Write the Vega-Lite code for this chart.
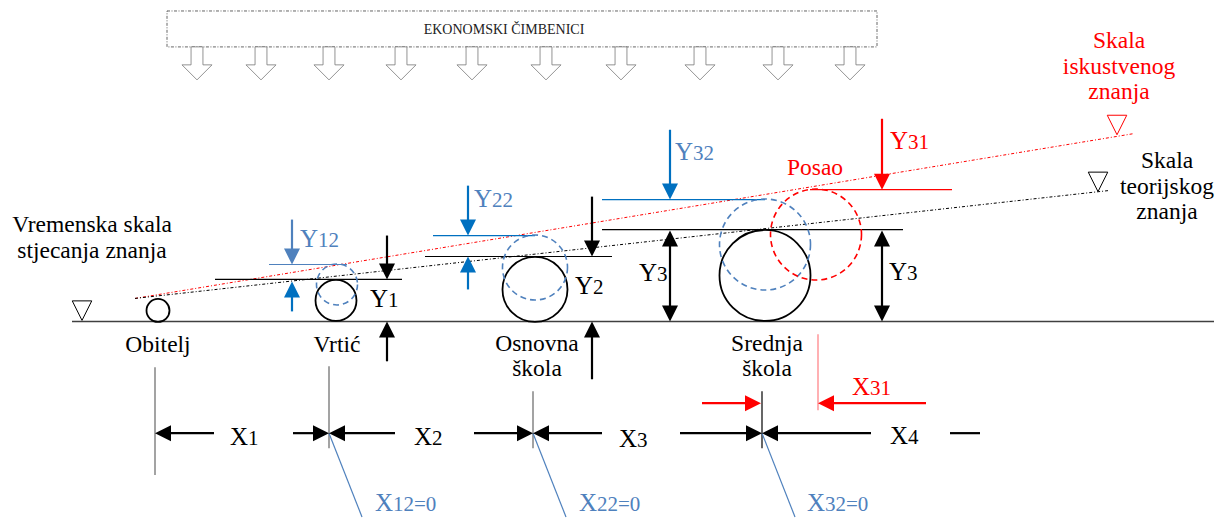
{
  "$schema": "https://vega.github.io/schema/vega-lite/v6.json",
  "width": 1216,
  "height": 518,
  "autosize": {"type": "fit", "contains": "padding"},
  "padding": 0,
  "background": "white",
  "config": {"view": {"stroke": null}},
  "encoding": {
    "x": {"field": "x", "type": "quantitative", "scale": {"domain": [0, 1216], "nice": false, "zero": false}, "axis": null},
    "y": {"field": "y", "type": "quantitative", "scale": {"domain": [0, 518], "nice": false, "zero": false, "reverse": true}, "axis": null}
  },
  "layer": [
    {
      "data": {"values": [{"x": 167, "x2": 877, "y": 11, "y2": 47}]},
      "mark": {"type": "rect", "filled": false, "stroke": "#555555", "strokeWidth": 0.9, "strokeDash": [3, 1.5, 1, 1.5]},
      "encoding": {"x2": {"field": "x2"}, "y2": {"field": "y2"}}
    },
    {
      "data": {"values": [{"x": 504, "y": 34, "t": "EKONOMSKI ČIMBENICI"}]},
      "mark": {"type": "text", "font": "Liberation Serif", "fontSize": 14, "align": "center", "baseline": "alphabetic", "color": "#222222"},
      "encoding": {"text": {"field": "t"}}
    },
    {
      "data": {"values": [
        {"x": 197, "y": 63.5}, {"x": 261, "y": 63.5}, {"x": 329, "y": 63.5}, {"x": 401, "y": 63.5}, {"x": 472, "y": 63.5},
        {"x": 546, "y": 63.5}, {"x": 621, "y": 63.5}, {"x": 700, "y": 63.5}, {"x": 778, "y": 63.5}, {"x": 850, "y": 63.5}
      ]},
      "mark": {"type": "point", "shape": "M-0.36,-1L0.36,-1L0.36,0.09L0.91,0.09L0,1L-0.91,0.09L-0.36,0.09Z", "size": 1089, "filled": true, "fill": "white", "stroke": "#777777", "strokeWidth": 0.8, "opacity": 1}
    },
    {
      "data": {"values": [{"x": 72, "y": 322, "x2": 1214, "y2": 322}]},
      "mark": {"type": "rule", "color": "#404040", "strokeWidth": 1.5},
      "encoding": {"x2": {"field": "x2"}, "y2": {"field": "y2"}}
    },
    {
      "data": {"values": [
        {"x": 135, "y": 299, "x2": 1133, "y2": 134, "grp": "job"},
        {"x": 135, "y": 299, "x2": 1108, "y2": 191, "grp": "main"}
      ]},
      "mark": {"type": "rule", "strokeWidth": 1, "strokeDash": [3, 2, 1, 2]},
      "encoding": {
        "x2": {"field": "x2"}, "y2": {"field": "y2"},
        "color": {"field": "grp", "type": "nominal", "scale": {"domain": ["main", "gain", "note", "job", "guide", "frame"], "range": ["#000000", "#0070C0", "#4F81BD", "#FF0000", "#FF7C80", "#666666"]}, "legend": null}
      }
    },
    {
      "data": {"values": [
        {"x": 215, "y": 280, "x2": 402, "y2": 280, "grp": "main"},
        {"x": 425, "y": 257, "x2": 612, "y2": 257, "grp": "main"},
        {"x": 602, "y": 230, "x2": 903, "y2": 230, "grp": "main"},
        {"x": 269, "y": 265, "x2": 347, "y2": 265, "grp": "note"},
        {"x": 433, "y": 236, "x2": 535, "y2": 236, "grp": "gain"},
        {"x": 602, "y": 200, "x2": 765, "y2": 200, "grp": "gain"},
        {"x": 810, "y": 190, "x2": 952, "y2": 190, "grp": "job"},
        {"x": 155, "y": 368, "x2": 155, "y2": 476, "grp": "frame"},
        {"x": 329, "y": 367, "x2": 329, "y2": 449, "grp": "frame"},
        {"x": 533, "y": 392, "x2": 533, "y2": 449, "grp": "frame"},
        {"x": 762, "y": 392, "x2": 762, "y2": 449, "grp": "main"},
        {"x": 329, "y": 434, "x2": 362, "y2": 518, "grp": "note"},
        {"x": 533, "y": 434, "x2": 566, "y2": 518, "grp": "note"},
        {"x": 762, "y": 434, "x2": 795, "y2": 518, "grp": "note"},
        {"x": 818, "y": 335, "x2": 818, "y2": 411, "grp": "guide"}
      ]},
      "mark": {"type": "rule", "strokeWidth": 1.2},
      "encoding": {
        "x2": {"field": "x2"}, "y2": {"field": "y2"},
        "color": {"field": "grp", "type": "nominal", "scale": {"domain": ["main", "gain", "note", "job", "guide", "frame"], "range": ["#000000", "#0070C0", "#4F81BD", "#FF0000", "#FF7C80", "#666666"]}, "legend": null}
      }
    },
    {
      "data": {"values": [
        {"x": 387, "y": 236, "x2": 387, "y2": 272, "grp": "main"},
        {"x": 387, "y": 362, "x2": 387, "y2": 330, "grp": "main"},
        {"x": 592, "y": 197, "x2": 592, "y2": 249, "grp": "main"},
        {"x": 592, "y": 380, "x2": 592, "y2": 330, "grp": "main"},
        {"x": 670, "y": 238, "x2": 670, "y2": 314, "grp": "main"},
        {"x": 882, "y": 238, "x2": 882, "y2": 314, "grp": "main"},
        {"x": 214, "y": 434, "x2": 163, "y2": 434, "grp": "main"},
        {"x": 293, "y": 434, "x2": 321, "y2": 434, "grp": "main"},
        {"x": 395, "y": 434, "x2": 337, "y2": 434, "grp": "main"},
        {"x": 474, "y": 434, "x2": 525, "y2": 434, "grp": "main"},
        {"x": 602, "y": 434, "x2": 541, "y2": 434, "grp": "main"},
        {"x": 680, "y": 434, "x2": 754, "y2": 434, "grp": "main"},
        {"x": 871, "y": 434, "x2": 770, "y2": 434, "grp": "main"},
        {"x": 950, "y": 434, "x2": 980, "y2": 434, "grp": "main"},
        {"x": 292, "y": 312, "x2": 292, "y2": 290, "grp": "gain"},
        {"x": 468, "y": 186, "x2": 468, "y2": 228, "grp": "gain"},
        {"x": 468, "y": 290, "x2": 468, "y2": 265, "grp": "gain"},
        {"x": 670, "y": 130, "x2": 670, "y2": 192, "grp": "gain"},
        {"x": 292, "y": 220, "x2": 292, "y2": 257, "grp": "note"},
        {"x": 882, "y": 119, "x2": 882, "y2": 182, "grp": "job"},
        {"x": 926, "y": 404, "x2": 826, "y2": 404, "grp": "job"},
        {"x": 702, "y": 404, "x2": 753, "y2": 404, "grp": "job"}
      ]},
      "mark": {"type": "rule", "strokeWidth": 2.2},
      "encoding": {
        "x2": {"field": "x2"}, "y2": {"field": "y2"},
        "color": {"field": "grp", "type": "nominal", "scale": {"domain": ["main", "gain", "note", "job", "guide", "frame"], "range": ["#000000", "#0070C0", "#4F81BD", "#FF0000", "#FF7C80", "#666666"]}, "legend": null}
      }
    },
    {
      "data": {"values": [
        {"x": 387, "y": 280, "dir": "down", "grp": "main"},
        {"x": 592, "y": 257, "dir": "down", "grp": "main"},
        {"x": 468, "y": 236, "dir": "down", "grp": "gain"},
        {"x": 670, "y": 200, "dir": "down", "grp": "gain"},
        {"x": 292, "y": 265, "dir": "down", "grp": "note"},
        {"x": 882, "y": 190, "dir": "down", "grp": "job"},
        {"x": 387, "y": 322, "dir": "up", "grp": "main"},
        {"x": 592, "y": 322, "dir": "up", "grp": "main"},
        {"x": 292, "y": 282, "dir": "up", "grp": "gain"},
        {"x": 468, "y": 257, "dir": "up", "grp": "gain"},
        {"x": 670, "y": 231, "dir": "up", "grp": "main"},
        {"x": 670, "y": 322, "dir": "down", "grp": "main"},
        {"x": 882, "y": 231, "dir": "up", "grp": "main"},
        {"x": 882, "y": 322, "dir": "down", "grp": "main"},
        {"x": 155, "y": 434, "dir": "left", "grp": "main"},
        {"x": 329, "y": 434, "dir": "left", "grp": "main"},
        {"x": 533, "y": 434, "dir": "left", "grp": "main"},
        {"x": 762, "y": 434, "dir": "left", "grp": "main"},
        {"x": 329, "y": 434, "dir": "right", "grp": "main"},
        {"x": 533, "y": 434, "dir": "right", "grp": "main"},
        {"x": 762, "y": 434, "dir": "right", "grp": "main"},
        {"x": 818, "y": 404, "dir": "left", "grp": "job"},
        {"x": 761, "y": 404, "dir": "right", "grp": "job"}
      ]},
      "mark": {"type": "point", "filled": true, "size": 1024, "opacity": 1, "strokeWidth": 0},
      "encoding": {
        "shape": {"field": "dir", "type": "nominal", "scale": {"domain": ["down", "up", "left", "right"], "range": ["M0,0L-0.5,-1L0.5,-1Z", "M0,0L-0.5,1L0.5,1Z", "M0,0L1,-0.5L1,0.5Z", "M0,0L-1,-0.5L-1,0.5Z"]}, "legend": null},
        "color": {"field": "grp", "type": "nominal", "scale": {"domain": ["main", "gain", "note", "job", "guide", "frame"], "range": ["#000000", "#0070C0", "#4F81BD", "#FF0000", "#FF7C80", "#666666"]}, "legend": null}
      }
    },
    {
      "data": {"values": [
        {"x": 82, "y": 321, "grp": "main"},
        {"x": 1098, "y": 192, "grp": "main"},
        {"x": 1117, "y": 135, "grp": "job"}
      ]},
      "mark": {"type": "point", "shape": "M0,0L-0.5,-1L0.5,-1Z", "size": 1521, "filled": true, "fill": "white", "strokeWidth": 1, "opacity": 1},
      "encoding": {
        "stroke": {"field": "grp", "type": "nominal", "scale": {"domain": ["main", "job"], "range": ["#000000", "#FF0000"]}, "legend": null}
      }
    },
    {
      "data": {"values": [
        {"x": 158, "y": 311, "d": 23},
        {"x": 336, "y": 301, "d": 41},
        {"x": 535, "y": 290, "d": 65},
        {"x": 765, "y": 276, "d": 91}
      ]},
      "mark": {"type": "point", "shape": "circle", "filled": false, "strokeWidth": 1.8, "color": "#000000", "opacity": 1},
      "encoding": {
        "size": {"field": "d", "type": "quantitative", "scale": {"type": "pow", "exponent": 2, "domain": [0, 100], "range": [0, 10000]}, "legend": null}
      }
    },
    {
      "data": {"values": [
        {"x": 337, "y": 285, "d": 41, "grp": "note"},
        {"x": 535, "y": 268, "d": 65, "grp": "note"},
        {"x": 765, "y": 245, "d": 91, "grp": "note"},
        {"x": 816, "y": 235, "d": 91, "grp": "job"}
      ]},
      "mark": {"type": "point", "shape": "circle", "filled": false, "strokeWidth": 1.6, "strokeDash": [6, 4], "opacity": 1},
      "encoding": {
        "size": {"field": "d", "type": "quantitative", "scale": {"type": "pow", "exponent": 2, "domain": [0, 100], "range": [0, 10000]}, "legend": null},
        "color": {"field": "grp", "type": "nominal", "scale": {"domain": ["main", "gain", "note", "job", "guide", "frame"], "range": ["#000000", "#0070C0", "#4F81BD", "#FF0000", "#FF7C80", "#666666"]}, "legend": null}
      }
    },
    {
      "data": {"values": [
        {"x": 92, "y": 232, "t": "Vremenska skala", "grp": "main"},
        {"x": 92, "y": 258, "t": "stjecanja znanja", "grp": "main"},
        {"x": 158, "y": 353, "t": "Obitelj", "grp": "main"},
        {"x": 337, "y": 353, "t": "Vrtić", "grp": "main"},
        {"x": 537, "y": 352, "t": "Osnovna", "grp": "main"},
        {"x": 537, "y": 377, "t": "škola", "grp": "main"},
        {"x": 767, "y": 352, "t": "Srednja", "grp": "main"},
        {"x": 767, "y": 377, "t": "škola", "grp": "main"},
        {"x": 815, "y": 175, "t": "Posao", "grp": "job"},
        {"x": 1119, "y": 48, "t": "Skala", "grp": "job"},
        {"x": 1119, "y": 74, "t": "iskustvenog", "grp": "job"},
        {"x": 1119, "y": 99, "t": "znanja", "grp": "job"},
        {"x": 1167, "y": 168, "t": "Skala", "grp": "main"},
        {"x": 1167, "y": 194, "t": "teorijskog", "grp": "main"},
        {"x": 1167, "y": 219, "t": "znanja", "grp": "main"}
      ]},
      "mark": {"type": "text", "font": "Liberation Serif", "fontSize": 23.5, "align": "center", "baseline": "alphabetic"},
      "encoding": {
        "text": {"field": "t"},
        "color": {"field": "grp", "type": "nominal", "scale": {"domain": ["main", "gain", "note", "job", "guide", "frame"], "range": ["#000000", "#0070C0", "#4F81BD", "#FF0000", "#FF7C80", "#666666"]}, "legend": null}
      }
    },
    {
      "data": {"name": "labels", "values": [
        {"x": 318, "y": 247, "m": "Y", "s": "12", "grp": "note"},
        {"x": 388, "y": 308, "m": "Y", "s": "1", "grp": "main"},
        {"x": 492, "y": 207, "m": "Y", "s": "22", "grp": "note"},
        {"x": 593, "y": 295, "m": "Y", "s": "2", "grp": "main"},
        {"x": 693, "y": 160, "m": "Y", "s": "32", "grp": "note"},
        {"x": 657, "y": 282, "m": "Y", "s": "3", "grp": "main"},
        {"x": 908, "y": 149, "m": "Y", "s": "31", "grp": "job"},
        {"x": 907, "y": 281, "m": "Y", "s": "3", "grp": "main"},
        {"x": 248, "y": 446, "m": "X", "s": "1", "grp": "main"},
        {"x": 432, "y": 446, "m": "X", "s": "2", "grp": "main"},
        {"x": 637, "y": 448, "m": "X", "s": "3", "grp": "main"},
        {"x": 908, "y": 445, "m": "X", "s": "4", "grp": "main"},
        {"x": 870, "y": 396, "m": "X", "s": "31", "grp": "job"},
        {"x": 393, "y": 512, "m": "X", "s": "12=0", "grp": "note"},
        {"x": 597, "y": 512, "m": "X", "s": "22=0", "grp": "note"},
        {"x": 825, "y": 512, "m": "X", "s": "32=0", "grp": "note"}
      ]},
      "layer": [
        {
          "mark": {"type": "text", "font": "Liberation Serif", "fontSize": 25, "align": "right", "baseline": "alphabetic"},
          "encoding": {
            "text": {"field": "m"},
            "color": {"field": "grp", "type": "nominal", "scale": {"domain": ["main", "gain", "note", "job", "guide", "frame"], "range": ["#000000", "#0070C0", "#4F81BD", "#FF0000", "#FF7C80", "#666666"]}, "legend": null}
          }
        },
        {
          "mark": {"type": "text", "font": "Liberation Serif", "fontSize": 21, "align": "left", "baseline": "alphabetic"},
          "encoding": {
            "text": {"field": "s"},
            "color": {"field": "grp", "type": "nominal", "scale": {"domain": ["main", "gain", "note", "job", "guide", "frame"], "range": ["#000000", "#0070C0", "#4F81BD", "#FF0000", "#FF7C80", "#666666"]}, "legend": null}
          }
        }
      ]
    }
  ]
}
